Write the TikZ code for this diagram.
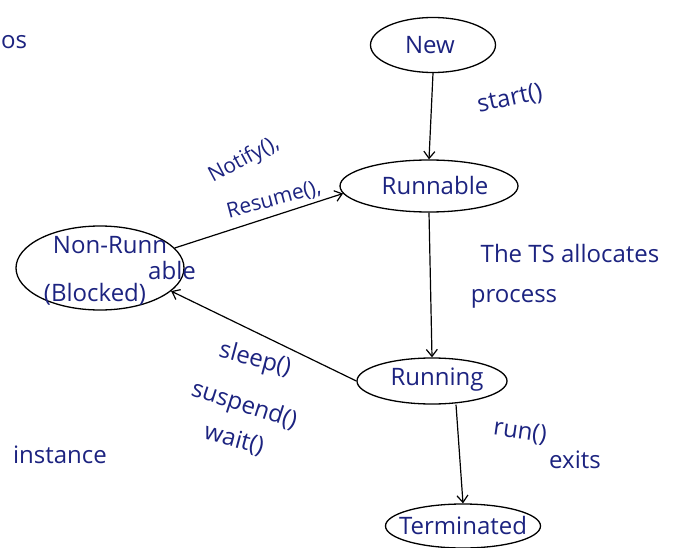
\documentclass[tikz,border=0pt]{standalone}
\usepackage{fontspec}
\setmainfont{Open Sans}
\usetikzlibrary{shapes.geometric,arrows.meta}
\definecolor{ink}{HTML}{1C2380}
\begin{document}
\begin{tikzpicture}[x=1pt,y=-1pt,
  state/.style={draw=black,line width=1.3pt,ellipse,inner sep=0pt},
  lbl/.style={text=ink,font=\fontsize{24}{26}\selectfont,inner sep=1pt},
  small/.style={font=\fontsize{21}{23}\selectfont},
  conn/.style={draw=black,line width=1.2pt,-{Straight Barb[length=7pt,width=11pt]}}]
\useasboundingbox[fill=white] (0,0) rectangle (693,548);
\node[state,minimum width=125,minimum height=55] (new) at (433,45) {};
\node[lbl] at (430,45) {New};
\node[state,minimum width=178,minimum height=52] (runnable) at (429,186) {};
\node[lbl] at (435,186) {Runnable};
\node[state,minimum width=168,minimum height=84] (blocked) at (100,268) {};
\node[lbl] (b1) at (110,245) {Non-Runn};
\node[lbl] (b2) at (172,270) {able};
\node[lbl] (b3) at (95,294) {(Blocked)};
\node[state,minimum width=150,minimum height=46] (running) at (432,381) {};
\node[lbl] at (437,380) {Running};
\node[state,minimum width=155,minimum height=44] (term) at (463,526) {};
\node[lbl] at (463,525) {Terminated};
\draw[conn] (new.south) -- (runnable.north);
\draw[conn] (runnable.south) -- (running.north);
\draw[conn] (running.south) ++(24,0) coordinate (rs) -- (term.north);
\draw[conn] (running.west) -- (blocked.-18);
\draw[conn] (blocked.15) -- (runnable.185);
\node[lbl,rotate=12] at (510,99) {start()};
\node[lbl] at (570,253) {The TS allocates};
\node[lbl] at (514,299) {process};
\node[lbl,rotate=-8] at (520,432) {run()};
\node[lbl] at (575,460) {exits};
\node[lbl,small,rotate=28] at (244,160) {Notify(),};
\node[lbl,small,rotate=15] at (274,200) {Resume(),};
\node[lbl,rotate=-15] at (255,360) {sleep()};
\node[lbl,rotate=-18] at (244,406) {suspend()};
\node[lbl,rotate=-15] at (234,440) {wait()};
\node[lbl] at (60,455) {instance};
\node[lbl,anchor=west] at (0,42) {os};
\end{tikzpicture}
\end{document}
